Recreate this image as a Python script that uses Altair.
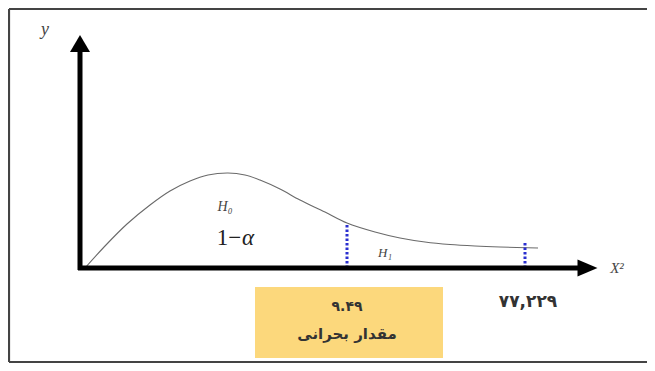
import altair as alt
import pandas as pd

# ---- diagram data (abstract units: origin of the axes at 0,0) ----
curve_x = [5, 25, 47, 70, 90, 110, 128, 148, 165, 180, 200, 220, 245, 267, 295, 320, 345, 370, 395, 420, 458]
curve_y = [0, 22, 44, 63, 77, 87, 93, 95, 93, 88, 79, 68, 56, 45, 36, 30, 26, 23.5, 22, 21, 20]

crit_x = [267, 445]
crit_top = [45, 26]

# open frame: left edge, top edge, bottom edge
frame_left, frame_right = -71, 567
frame_top, frame_bottom = 259, -94

axis_x = [0, -2]
axis_x2 = [0, 498]
axis_y = [-2, 0]
axis_y2 = [216, 0]

arrow_x = [0, 507.5]
arrow_y = [223, 0]
arrow_shape = ["M0,-1L1,0.7L-1,0.7Z", "M1,0L-1,-0.85L-1,0.85Z"]

box_x, box_x2, box_y, box_y2 = [175], [363], [-19], [-90]

labels_serif = ["1−", "α"]
labels_serif_x = [149, 168]
labels_serif_y = [30, 30]
labels_serif_style = ["normal", "italic"]

labels_italic = ["y", "H₀", "H₁", "X²"]
labels_italic_x = [-35, 145, 305, 537]
labels_italic_y = [238, 61, 15, 0]
labels_italic_size = [18, 14, 13, 15]

labels_fa = ["۹.۴۹", "مقدار بحرانی", "۷۷,۲۲۹"]
labels_fa_x = [267, 267, 448]
labels_fa_y = [-39, -66, -34]
labels_fa_size = [14, 15, 17]
labels_fa_weight = ["bold", "normal", "bold"]

xs = alt.Scale(domain=[-72, 567], nice=False, zero=False)
ys = alt.Scale(domain=[-95, 260], nice=False, zero=False)

def X(f="x"):
    return alt.X(f + ":Q", scale=xs, axis=None)

def Y(f="y"):
    return alt.Y(f + ":Q", scale=ys, axis=None)

frame_l = alt.Chart(pd.DataFrame({"x": [frame_left], "y": [frame_bottom], "y2": [frame_top]})).mark_rule(
    color="#444444", strokeWidth=2.2).encode(x=X(), y=Y(), y2="y2:Q")
frame_h = alt.Chart(pd.DataFrame({"x": [frame_left, frame_left], "x2": [frame_right, frame_right],
                                  "y": [frame_top, frame_bottom]})).mark_rule(
    color="#444444", strokeWidth=2.2).encode(x=X(), x2="x2:Q", y=Y())

box = alt.Chart(pd.DataFrame({"x": box_x, "x2": box_x2, "y": box_y, "y2": box_y2})).mark_rect(
    color="#FCD87C").encode(x=X(), x2="x2:Q", y=Y(), y2="y2:Q")

curve = alt.Chart(pd.DataFrame({"x": curve_x, "y": curve_y})).mark_line(
    color="#6a6a6a", strokeWidth=1.1, interpolate="catmull-rom").encode(x=X(), y=Y())

crit = alt.Chart(pd.DataFrame({"x": crit_x, "y": [0, 0], "y2": crit_top})).mark_rule(
    color="#2a2fd0", strokeWidth=3, strokeDash=[2.5, 2]).encode(x=X(), y=Y(), y2="y2:Q")

axes = alt.Chart(pd.DataFrame({"x": axis_x, "x2": axis_x2, "y": axis_y, "y2": axis_y2})).mark_rule(
    color="black", strokeWidth=5).encode(x=X(), x2="x2:Q", y=Y(), y2="y2:Q")

arrows = alt.Chart(pd.DataFrame({"x": arrow_x, "y": arrow_y, "s": arrow_shape})).mark_point(
    filled=True, color="black", opacity=1, size=400, strokeWidth=0).encode(
    x=X(), y=Y(), shape=alt.Shape("s:N", scale=None, legend=None))

t_serif_df = pd.DataFrame({"x": labels_serif_x, "y": labels_serif_y, "t": labels_serif, "st": labels_serif_style})
t_serif_up = alt.Chart(t_serif_df).transform_filter("datum.st == 'normal'").mark_text(
    font="Liberation Serif", fontSize=23, color="#222222").encode(x=X(), y=Y(), text="t:N")
t_serif_it = alt.Chart(t_serif_df).transform_filter("datum.st == 'italic'").mark_text(
    font="Liberation Serif", fontStyle="italic", fontSize=23, color="#222222").encode(x=X(), y=Y(), text="t:N")

t_italic = alt.Chart(pd.DataFrame({"x": labels_italic_x, "y": labels_italic_y, "t": labels_italic,
                                   "fs": labels_italic_size})).mark_text(
    font="Liberation Serif", fontStyle="italic", color="#444444").encode(
    x=X(), y=Y(), text="t:N", size=alt.Size("fs:Q", scale=None, legend=None))

t_fa = alt.Chart(pd.DataFrame({"x": labels_fa_x, "y": labels_fa_y, "t": labels_fa,
                               "fs": labels_fa_size, "fw": labels_fa_weight})).encode(
    x=X(), y=Y(), text="t:N", size=alt.Size("fs:Q", scale=None, legend=None))

t_fa_bold = t_fa.transform_filter("datum.fw == 'bold'").mark_text(
    font="DejaVu Sans", color="#333333", fontWeight="bold")
t_fa_norm = t_fa.transform_filter("datum.fw == 'normal'").mark_text(
    font="DejaVu Sans", color="#333333", fontWeight=600)

chart = alt.layer(frame_l, frame_h, box, curve, crit, axes, arrows, t_serif_up, t_serif_it, t_italic,
                  t_fa_bold, t_fa_norm).properties(
    width=639, height=355, padding=0, autosize=alt.AutoSizeParams(type="none")
).configure_view(strokeWidth=0, stroke="transparent")

chart.save("out.html", embed_options={"renderer": "svg", "actions": False})
